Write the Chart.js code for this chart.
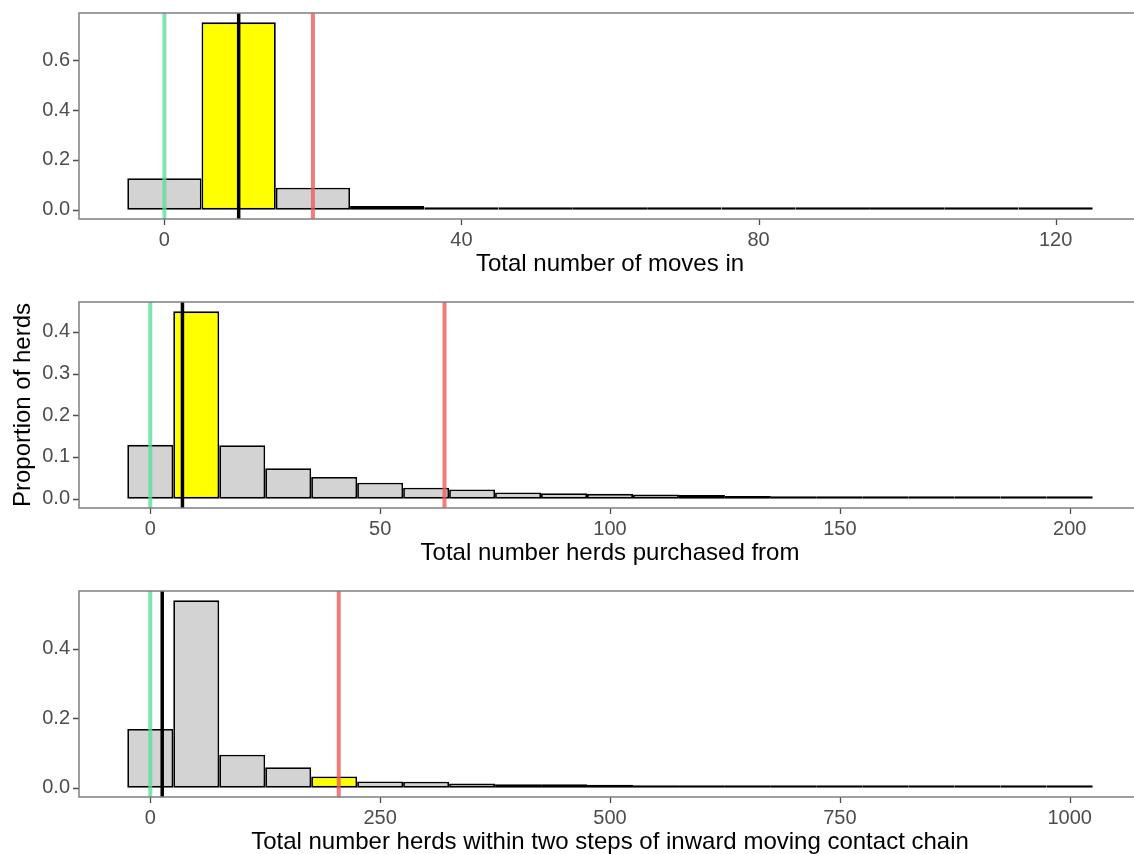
<!DOCTYPE html>
<html lang="en">
<head>
<meta charset="UTF-8">
<title>Herd contact histograms</title>
<script src="https://cdn.jsdelivr.net/npm/chart.js"></script>
<style>
  body { margin: 0; background: #fff; overflow: hidden; width: 1134px; height: 854px; position: relative; }
  canvas { position: absolute; left: 0; }
</style>
</head>
<body>
<canvas id="movesChart" width="1150" height="285" style="top:0px"></canvas>
<canvas id="herdsChart" width="1150" height="285" style="top:289px"></canvas>
<canvas id="chainChart" width="1150" height="285" style="top:578px"></canvas>
<script>
// Panel 1 - total number of moves in (bins of 10)
const moveBins = [0, 10, 20, 30, 40, 50, 60, 70, 80, 90, 100, 110, 120];
const moveProps = [0.126, 0.753, 0.088, 0.015, 0.005, 0.003, 0.003, 0.0005, 0.003, 0.003, 0.001, 0.001, 0.001];
const moveTicks = [0, 40, 80, 120];
const moveYTicks = [0, 0.2, 0.4, 0.6];
const moveMarks = [0, 10, 20];      // min, median, max reference lines
const moveHighlight = 1;

// Panel 2 - total number herds purchased from (bins of 10)
const herdBins = [0, 10, 20, 30, 40, 50, 60, 70, 80, 90, 100, 110, 120, 130, 140, 150, 160, 170, 180, 190, 200];
const herdProps = [0.129, 0.449, 0.128, 0.073, 0.052, 0.038, 0.026, 0.022, 0.015, 0.013, 0.0115, 0.010, 0.009, 0.0065,
                   0.003, 0.003, 0.004, 0.004, 0.004, 0.003, 0.002];
const herdTicks = [0, 50, 100, 150, 200];
const herdYTicks = [0, 0.1, 0.2, 0.3, 0.4];
const herdMarks = [0, 7, 64];
const herdHighlight = 1;

// Panel 3 - herds within two steps of inward contact chain (bins of 50)
const chainBins = [0, 50, 100, 150, 200, 250, 300, 350, 400, 450, 500, 550, 600, 650, 700, 750, 800, 850, 900, 950, 1000];
const chainProps = [0.169, 0.539, 0.095, 0.059, 0.032, 0.018, 0.017, 0.012, 0.0095, 0.0095, 0.008, 0.007, 0.005, 0.005,
                    0.004, 0.006, 0.004, 0.004, 0.0025, 0.0025, 0.0025];
const chainTicks = [0, 250, 500, 750, 1000];
const chainYTicks = [0, 0.2, 0.4];
const chainMarks = [0, 13, 205];
const chainHighlight = 4;

const FONT = '"Liberation Sans", Arial, sans-serif';
const markColors = ['rgba(95,222,156,0.8)', '#000000', 'rgba(239,91,91,0.8)'];
const markWidths = [4, 3.5, 4];

// ggplot-like panel border plus short tick marks outside the panel
const panelBorder = {
    id: 'panelBorder',
    afterDraw(chart) {
        const a = chart.chartArea, ctx = chart.ctx;
        const xs = chart.scales.x, ys = chart.scales.y;
        ctx.save();
        ctx.strokeStyle = '#4d4d4d';
        ctx.lineWidth = 1.3;
        ctx.beginPath();
        xs.ticks.forEach(t => {
            const px = Math.round(xs.getPixelForValue(t.value)) + 0.5;
            ctx.moveTo(px, a.bottom);
            ctx.lineTo(px, a.bottom + 6);
        });
        ys.ticks.forEach(t => {
            const py = Math.round(ys.getPixelForValue(t.value)) + 0.5;
            ctx.moveTo(a.left, py);
            ctx.lineTo(a.left - 6, py);
        });
        ctx.stroke();
        ctx.strokeStyle = '#7f7f7f';
        ctx.lineWidth = 1.5;
        ctx.strokeRect(a.left, a.top, a.right - a.left, a.bottom - a.top);
        ctx.restore();
    }
};

function makePanel(id, bins, props, xTicks, yTicks, marks, highlight, xTitle, yTitle) {
    const binWidth = bins[1] - bins[0];
    const lo = bins[0] - binWidth / 2, hi = bins[bins.length - 1] + binWidth / 2;
    const xPad = (hi - lo) * 0.05;
    const yMax = Math.max(...props);
    const yMin = -yMax * 0.05, yTop = yMax * 1.05;

    const datasets = marks.map((v, i) => ({
        type: 'line',
        data: [{ x: v, y: yMin }, { x: v, y: yTop }],
        borderColor: markColors[i],
        borderWidth: markWidths[i],
        pointRadius: 0,
        order: 0
    }));
    datasets.push({
        type: 'bar',
        data: bins.map((b, i) => ({ x: b, y: props[i] })),
        backgroundColor: bins.map((b, i) => i === highlight ? '#ffff00' : '#d3d3d3'),
        borderColor: '#000000',
        borderWidth: 1.8,
        borderSkipped: false,
        minBarLength: 2.5,
        inflateAmount: 0,
        barPercentage: 1,
        categoryPercentage: 1,
        order: 1
    });

    new Chart(document.getElementById(id), {
        type: 'bar',
        data: { datasets },
        options: {
            responsive: false,
            animation: false,
            devicePixelRatio: 1,
            layout: { padding: { top: 13, right: 9, left: 0, bottom: 0 } },
            plugins: { legend: { display: false }, tooltip: { enabled: false } },
            scales: {
                x: {
                    type: 'linear',
                    offset: false,
                    min: lo - xPad,
                    max: hi + xPad,
                    afterBuildTicks: s => { s.ticks = xTicks.map(v => ({ value: v })); },
                    afterFit: s => { s.height = 66; s.paddingLeft = 0; s.paddingRight = 0; },
                    grid: { display: false, drawOnChartArea: false, tickLength: 6 },
                    border: { display: false },
                    ticks: { color: '#4d4d4d', padding: 3, maxRotation: 0, font: { family: FONT, size: 20 },
                             callback: v => String(v) },
                    title: { display: true, text: xTitle, color: '#000', padding: { top: 0, bottom: 6 },
                             font: { family: FONT, size: 24 } }
                },
                y: {
                    min: yMin,
                    max: yTop,
                    afterBuildTicks: s => { s.ticks = yTicks.map(v => ({ value: v })); },
                    afterFit: s => { s.width = 79; s.paddingTop = 0; s.paddingBottom = 0; },
                    grid: { display: false, drawOnChartArea: false, tickLength: 6 },
                    border: { display: false },
                    ticks: { color: '#4d4d4d', padding: 3, font: { family: FONT, size: 20 },
                             callback: v => Number(v).toFixed(1) },
                    title: { display: !!yTitle, text: yTitle || '', color: '#000', padding: { top: 9, bottom: 0 },
                             font: { family: FONT, size: 24 } }
                }
            }
        },
        plugins: [panelBorder]
    });
}

makePanel('movesChart', moveBins, moveProps, moveTicks, moveYTicks, moveMarks, moveHighlight,
          'Total number of moves in', null);
makePanel('herdsChart', herdBins, herdProps, herdTicks, herdYTicks, herdMarks, herdHighlight,
          'Total number herds purchased from', 'Proportion of herds');
makePanel('chainChart', chainBins, chainProps, chainTicks, chainYTicks, chainMarks, chainHighlight,
          'Total number herds within two steps of inward moving contact chain', null);
</script>
</body>
</html>
